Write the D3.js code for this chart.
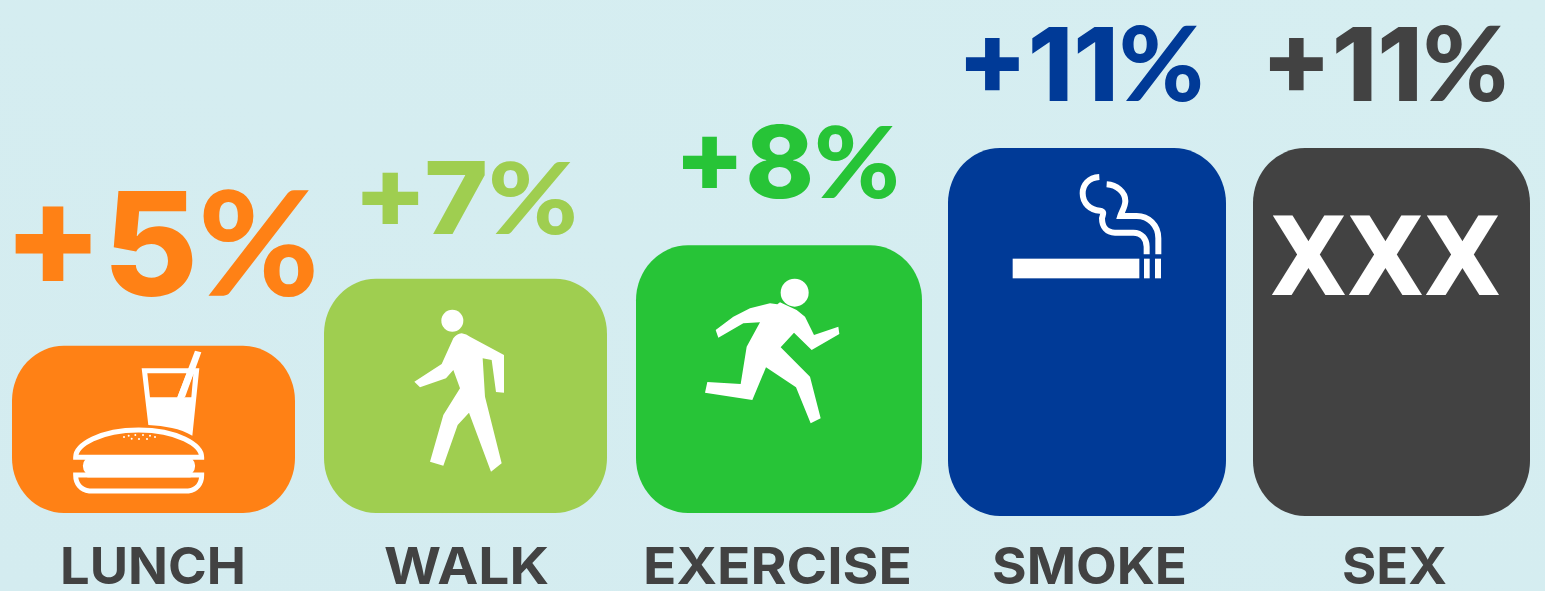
<!DOCTYPE html>
<html>
<head>
<meta charset="utf-8">
<script src="https://cdn.jsdelivr.net/npm/d3@7"></script>
<style>
html,body{margin:0;padding:0;background:#d5edf0;overflow:hidden}
svg{display:block}
text.value{font-family:Inter,sans-serif;font-weight:800}
text.value .pct{font-family:Lato,sans-serif;font-weight:900}
text.name{font-family:Inter,"Open Sans",sans-serif;font-weight:700}
</style>
</head>
<body>
<svg id="chart" width="1545" height="591"></svg>
<script>
const activities = ["LUNCH", "WALK", "EXERCISE", "SMOKE", "SEX"];
const gains = [5, 7, 8, 11, 11];
const gainLabels = ["+5%", "+7%", "+8%", "+11%", "+11%"];

// Per-column geometry and colour, kept apart from the values above
const columns = [
  {color:"#ff8115", left:12,   width:283, base:513, valX:3,    valW:316, valY:296, valSize:145, nameX:60,   nameW:186},
  {color:"#9fce50", left:324,  width:283, base:513, valX:353,  valW:225, valY:234, valSize:100, nameX:384,  nameW:165},
  {color:"#27c437", left:636,  width:286, base:513, valX:674,  valW:226, valY:198, valSize:100, nameX:643,  nameW:269},
  {color:"#003a97", left:948,  width:278, base:516, valX:957,  valW:247, valY:101, valSize:102, nameX:992,  nameW:195},
  {color:"#424242", left:1253, width:277, base:516, valX:1261, valW:247, valY:101, valSize:102, nameX:1342, nameW:105}
];

const svg = d3.select("#chart");
const barHeight = d3.scaleLinear().domain([0, 11]).range([0, 368]);

const bg = svg.append("defs").append("linearGradient").attr("id", "bg")
  .attr("x1", 0).attr("y1", 1).attr("x2", 1).attr("y2", 0);
bg.append("stop").attr("offset", "0%").attr("stop-color", "#d4ecf0");
bg.append("stop").attr("offset", "100%").attr("stop-color", "#d6eef1");
svg.append("rect").attr("width", 1545).attr("height", 591).attr("fill", "url(#bg)");

// Bars
svg.selectAll("rect.bar").data(gains).join("rect").attr("class", "bar")
  .attr("x", (d, i) => columns[i].left)
  .attr("y", (d, i) => columns[i].base - barHeight(d))
  .attr("width", (d, i) => columns[i].width)
  .attr("height", d => barHeight(d))
  .attr("rx", 52).attr("ry", 55)
  .attr("fill", (d, i) => columns[i].color);

// Value labels above each bar; the percent sign gets its own face
const values = svg.selectAll("text.value").data(gainLabels).join("text").attr("class", "value")
  .attr("x", (d, i) => columns[i].valX)
  .attr("y", (d, i) => columns[i].valY)
  .attr("font-size", (d, i) => columns[i].valSize)
  .attr("textLength", (d, i) => columns[i].valW)
  .attr("lengthAdjust", "spacingAndGlyphs")
  .attr("fill", (d, i) => columns[i].color);
values.append("tspan").text(d => d.slice(0, -1));
values.append("tspan").attr("class", "pct").text("%");

// Activity names below each bar
svg.selectAll("text.name").data(activities).join("text").attr("class", "name")
  .attr("x", (d, i) => columns[i].nameX)
  .attr("y", 584)
  .attr("font-size", 51)
  .attr("textLength", (d, i) => columns[i].nameW)
  .attr("lengthAdjust", "spacingAndGlyphs")
  .attr("fill", "#424242")
  .text(d => d);

const white = "#fff";
// Icons are drawn in a 3x local grid and scaled back down
const icon = (x, y) => svg.append("g").attr("transform", `translate(${x},${y}) scale(${1 / 3})`);

// Burger and drink
const lunch = icon(0, 340);
lunch.append("path").attr("fill", white).attr("fill-rule", "evenodd")
  .attr("d", "M425 85L598 85L577 287C540 265 495 258 445 255ZM442 100L450 172L532 172L560 100ZM580 102L552 172L574 172Z");
lunch.append("path").attr("fill", white)
  .attr("d", "M585 32L604 37L555 172L532 172Z");
lunch.append("path").attr("fill", "none").attr("stroke", white).attr("stroke-width", 15)
  .attr("d", "M227 352C227 315 300 270 416 270C532 270 605 315 605 352Z");
lunch.append("rect").attr("x", 249).attr("y", 350).attr("width", 336).attr("height", 56)
  .attr("rx", 26).attr("fill", white);
lunch.append("rect").attr("x", 262).attr("y", 345).attr("width", 310).attr("height", 67).attr("fill", white);
lunch.append("path").attr("fill", "none").attr("stroke", white).attr("stroke-width", 15)
  .attr("d", "M227 405L605 405C605 432 590 449 565 453L268 453C242 449 227 432 227 405Z");
lunch.selectAll("circle").data([[372,291],[386,287],[395,296],[406,285],[417,297],[429,285],[441,297],[450,287],[465,291]]).join("circle")
  .attr("cx", d => d[0]).attr("cy", d => d[1]).attr("r", 3).attr("fill", white);

// Walking figure
const walk = icon(390, 300);
walk.append("circle").attr("cx", 187).attr("cy", 62).attr("r", 33).attr("fill", white);
walk.append("path").attr("fill", white)
  .attr("d", "M190 115Q200 102 215 100Q230 102 240 110L342 165L342 278L318 276L305 180L278 175L285 290L335 490L303 515L237 338L203 375L160 497L120 485L160 345L210 265L190 210L168 235L90 262L73 245L155 192Z");

// Running figure
const run = icon(690, 270);
run.append("circle").attr("cx", 314).attr("cy", 68).attr("r", 42).attr("fill", white);
run.append("path").attr("fill", white)
  .attr("d", "M240 100L262 103L270 97L320 120L345 140L372 195L445 170L448 192L365 240L312 188L272 232L360 320L392 445L362 460L318 352L228 292L187 390L45 368L52 336L152 342L170 230L210 157L160 160L85 203L77 180L130 140L180 115Z");

// Cigarette and smoke
const smoke = icon(1000, 165);
smoke.append("rect").attr("x", 38).attr("y", 281).attr("width", 380).attr("height", 59).attr("fill", white);
smoke.append("rect").attr("x", 432).attr("y", 281).attr("width", 17).attr("height", 59).attr("fill", white);
smoke.append("rect").attr("x", 465).attr("y", 281).attr("width", 18).attr("height", 59).attr("fill", white);
smoke.append("path").attr("fill", "none").attr("stroke", white).attr("stroke-width", 18)
  .attr("d", "M298 36C265 38 248 60 248 85C248 115 270 135 300 137C316 139 308 150 306 160C306 185 320 203 345 203L400 203C425 203 440 222 440 245L440 268");
smoke.append("path").attr("fill", "none").attr("stroke", white).attr("stroke-width", 18)
  .attr("d", "M320 58C350 60 376 80 376 108C376 125 365 140 361 153L410 153C445 153 475 180 475 220L475 268");

// Triple X mark on the last bar
svg.append("text").attr("x", 1270).attr("y", 295)
  .attr("font-size", 108).attr("fill", white)
  .attr("textLength", 231).attr("lengthAdjust", "spacingAndGlyphs")
  .style("font-family", "'DejaVu Sans'").style("font-weight", 700).text("XXX");
</script>
</body>
</html>
